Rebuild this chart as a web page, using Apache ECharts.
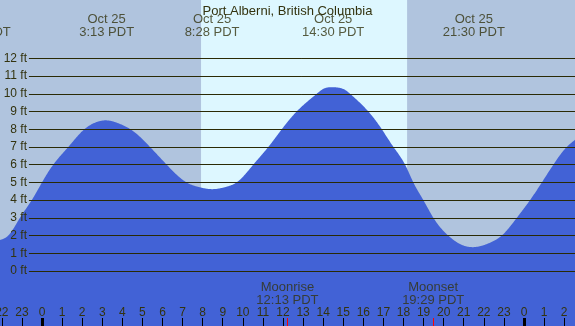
<!DOCTYPE html>
<html>
<head>
<meta charset="utf-8">
<script src="https://cdn.jsdelivr.net/npm/echarts@6/dist/echarts.min.js"></script>
<style>
html,body{margin:0;padding:0;background:#b0c4de;}
#chart{width:575px;height:326px;}
</style>
</head>
<body>
<div id="chart"></div>
<script>
// ---- data ----
const hours   = [-2.09,-1.68,-1.10,-0.51,0.00,0.56,1.31,2.06,2.56,3.22,3.88,4.47,5.38,6.21,7.20,7.87,8.47,9.20,9.69,10.52,11.27,11.94,12.68,13.68,14.00,14.50,15.17,15.34,16.25,16.92,17.50,18.08,18.49,18.99,19.49,20.23,20.82,21.50,22.31,22.89,23.64,24.30,24.89,25.46,26.13,26.54];
const heights = [1.75,2,3,4,5,6,7,7.95,8.33,8.5,8.3,7.95,7,6,5,4.72,4.62,4.76,5,6,7,8,9,10,10.27,10.37,10.16,10,9,8,7,6,5,4,3,2,1.52,1.35,1.6,2,3,4,5,6,7,7.4];
const extremeHours  = [-3.1, 3.22, 8.47, 14.50, 21.50];
const extremeLabels = ['Oct 24\n20:58 PDT','Oct 25\n3:13 PDT','Oct 25\n8:28 PDT','Oct 25\n14:30 PDT','Oct 25\n21:30 PDT'];
const moonHours  = [12.22, 19.48];
const moonLabels = ['Moonrise\n12:13 PDT','Moonset\n19:29 PDT'];
const sunrise = 7.92, sunset = 18.18;
const hourTicks = [-2,-1,0,1,2,3,4,5,6,7,8,9,10,11,12,13,14,15,16,17,18,19,20,21,22,23,24,25,26];
const midnightTicks = [0, 24];
const ftTicks = [0,1,2,3,4,5,6,7,8,9,10,11,12];
const title = 'Port Alberni, British Columbia';

// ---- layout ----
const X_MIN = -2.09, X_MAX = 26.54, Y_MIN = -3.1, Y_MAX = 15.29;
const LINE_START = -0.65;
const TICK_TOP = -2.65;
const TOP_LABEL_Y = 13.85, MOON_LABEL_Y = -1.27;
const TXT = '#33330f';
const FONT = 'Liberation Sans, Arial, sans-serif';

// natural cubic spline through the read points (used only to draw a smooth outline)
function splineCoef(x, y) {
  const n = x.length, h = [], M = new Array(n).fill(0);
  for (let i = 0; i < n - 1; i++) h[i] = x[i + 1] - x[i];
  const a = [], b = [], c = [], d = [];
  for (let i = 1; i < n - 1; i++) {
    a.push(h[i - 1]); b.push(2 * (h[i - 1] + h[i])); c.push(h[i]);
    d.push(6 * ((y[i + 1] - y[i]) / h[i] - (y[i] - y[i - 1]) / h[i - 1]));
  }
  const m = b.length;
  for (let i = 1; i < m; i++) { const w = a[i] / b[i - 1]; b[i] -= w * c[i - 1]; d[i] -= w * d[i - 1]; }
  const sol = new Array(m);
  sol[m - 1] = d[m - 1] / b[m - 1];
  for (let i = m - 2; i >= 0; i--) sol[i] = (d[i] - c[i] * sol[i + 1]) / b[i];
  for (let i = 0; i < m; i++) M[i + 1] = sol[i];
  return {h, M};
}
const coef = splineCoef(hours, heights);
function splineAt(t) {
  let i = 0;
  while (i < hours.length - 2 && t > hours[i + 1]) i++;
  const hh = coef.h[i], A = (hours[i + 1] - t) / hh, B = (t - hours[i]) / hh;
  return A * heights[i] + B * heights[i + 1] + ((A * A * A - A) * coef.M[i] + (B * B * B - B) * coef.M[i + 1]) * hh * hh / 6;
}

const chart = echarts.init(document.getElementById('chart'), null, {renderer:'canvas'});

chart.setOption({
  animation:false,
  backgroundColor:'#b0c4de',
  title:{text:title, left:'center', top:0, textStyle:{fontSize:13, fontWeight:'normal', color:TXT, fontFamily:FONT}},
  grid:{left:0,right:0,top:0,bottom:0,containLabel:false,outerBoundsMode:'none'},
  xAxis:{type:'value', min:X_MIN, max:X_MAX, z:10,
    axisLine:{show:false, onZero:false}, splitLine:{show:false},
    axisTick:{show:true, inside:true, length:8, customValues:hourTicks, lineStyle:{color:'#000',width:1}},
    axisLabel:{inside:true, margin:7, customValues:hourTicks, color:TXT, fontSize:12, fontFamily:FONT,
      formatter:v=>String(((Math.round(v)%24)+24)%24)}
  },
  yAxis:{type:'value', min:Y_MIN, max:Y_MAX, z:10,
    axisLine:{show:false, onZero:false}, splitLine:{show:false}, axisTick:{show:false},
    axisLabel:{inside:true, margin:27, align:'right', customValues:ftTicks, color:TXT, fontSize:12, fontFamily:FONT,
      formatter:v=>v+' ft'}
  },
  series:[
    {type:'line', data:[], z:1, silent:true,
      markArea:{silent:true, itemStyle:{color:'#ddf7ff'}, data:[[{xAxis:sunrise},{xAxis:sunset}]]}},
    {type:'custom', z:2, silent:true, clip:true,
      data: hours.map((h,i)=>[h, heights[i]]),
      renderItem:(params, api)=>{
        if (params.dataIndex !== 0) return null;
        const pts = [api.coord([X_MIN, Y_MIN])];
        const p0 = api.coord([X_MIN, 0])[0], p1 = api.coord([X_MAX, 0])[0];
        for (let px = p0; px <= p1 + 0.01; px += 0.5) {
          const t = X_MIN + (px - p0) / (p1 - p0) * (X_MAX - X_MIN);
          pts.push(api.coord([t, splineAt(t)]));
        }
        pts.push(api.coord([X_MAX, Y_MIN]));
        return {type:'polygon', shape:{points:pts}, style:{fill:'#4262d6'}};
      }},
    {type:'line', data:[], z:3, silent:true,
      markLine:{silent:true, symbol:'none', label:{show:false},
        lineStyle:{color:'#2a2a05', width:1, type:'solid'},
        data: ftTicks.map(v=>[{coord:[LINE_START,v]},{coord:[X_MAX,v]}])
          .concat(midnightTicks.map(h=>[{coord:[h,Y_MIN],lineStyle:{color:'#000',width:3}},{coord:[h,TICK_TOP]}]))
          .concat(moonHours.map(h=>[{coord:[h,Y_MIN],lineStyle:{color:'#ff0000',width:1}},{coord:[h,TICK_TOP]}]))
      }},
    {type:'scatter', z:11, clip:false, symbolSize:0, silent:true,
      data: extremeHours.map((h,i)=>({value:[h,TOP_LABEL_Y], name:extremeLabels[i]}))
        .concat(moonHours.map((h,i)=>({value:[h,MOON_LABEL_Y], name:moonLabels[i]}))),
      label:{show:true, position:'inside', formatter:p=>p.name, color:TXT, fontSize:13, lineHeight:13, fontFamily:FONT, align:'center'}}
  ]
});
</script>
</body>
</html>
